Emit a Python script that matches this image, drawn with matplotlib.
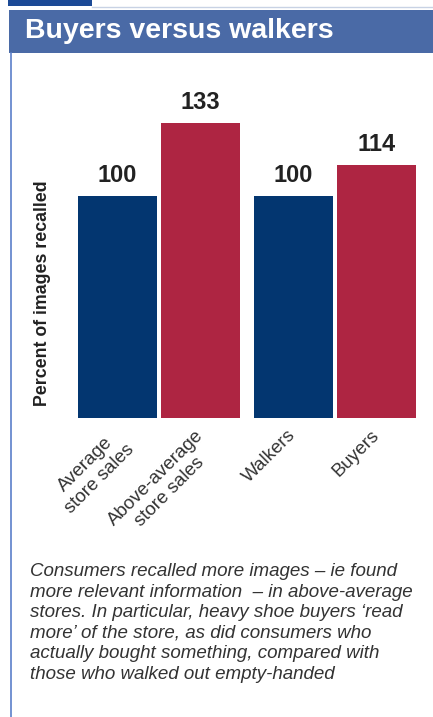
import matplotlib
matplotlib.use("Agg")
import matplotlib.pyplot as plt
from matplotlib.patches import Rectangle
from matplotlib.lines import Line2D

# ---- data ----
categories = ["Average\nstore sales", "Above-average\nstore sales", "Walkers", "Buyers"]
values = [100, 133, 100, 114]
bar_colors = ["#033670", "#ae2542", "#033670", "#ae2542"]
title = "Buyers versus walkers"
ylabel = "Percent of images recalled"
caption = ("Consumers recalled more images \u2013 ie found\n"
           "more relevant information  \u2013 in above-average\n"
           "stores. In particular, heavy shoe buyers \u2018read\n"
           "more\u2019 of the store, as did consumers who\n"
           "actually bought something, compared with\n"
           "those who walked out empty-handed")

W, H = 433, 717
DPI = 100
plt.rcParams['font.family'] = ['Liberation Sans', 'DejaVu Sans']
fig = plt.figure(figsize=(W / DPI, H / DPI), dpi=DPI)
fig.patch.set_facecolor("white")

def fx(px):
    return px / W

def fy(py):
    return 1 - py / H

# decorative header elements
fig.add_artist(Rectangle((fx(8), fy(6)), fx(84), 6 / H, transform=fig.transFigure,
                         facecolor="#1c4a96", edgecolor="none"))
fig.add_artist(Line2D([fx(92), 1], [fy(6.5), fy(6.5)], transform=fig.transFigure,
                      color="#c8d2e4", lw=1))
fig.add_artist(Rectangle((fx(9), fy(53)), 1 - fx(9), 43 / H, transform=fig.transFigure,
                         facecolor="#4a6aa6", edgecolor="none"))
fig.text(fx(25), fy(31), title, color="white", fontsize=20.5, fontweight="bold",
         va="center", ha="left")
fig.add_artist(Line2D([fx(10.5), fx(10.5)], [0, fy(53)], transform=fig.transFigure,
                      color="#5b7fc9", lw=1.2))

# chart axes
ax_left, ax_right, ax_top, ax_bottom = 70, 425, 80, 418
ax = fig.add_axes([fx(ax_left), fy(ax_bottom), (ax_right - ax_left) / W, (ax_bottom - ax_top) / H])
unit = 83.0
positions = [0, 1, 2 + 10 / unit, 3 + 10 / unit]
ax.bar(positions, values, width=79 / unit, color=bar_colors, edgecolor="none")
ax.set_xlim((ax_left - 117.5) / unit, (ax_right - 117.5) / unit)
ax.set_ylim(0, (ax_bottom - ax_top) / 2.22)
for s in ax.spines.values():
    s.set_visible(False)
ax.set_yticks([])
ax.set_xticks(positions)
ax.set_xticklabels([])
ax.tick_params(axis="x", length=0)

for p, lab in zip(positions, categories):
    ax.annotate(lab, (p, 0), xytext=(-6, -9), textcoords="offset pixels",
                rotation=45, ha="right", va="top", rotation_mode="anchor",
                fontsize=13.5, color="#333333", multialignment="center",
                annotation_clip=False)

for p, v in zip(positions, values):
    ax.annotate(f"{v}", (p, v), xytext=(0, 10), textcoords="offset points",
                ha="center", va="baseline", fontsize=17, fontweight="bold", color="#222222")

fig.text(fx(43), fy(293), ylabel, rotation=90, ha="center", va="center",
         fontsize=12.8, fontweight="bold", color="#222222")

fig.text(fx(30), fy(563), caption, ha="left", va="top", fontsize=13.5, style="italic",
         color="#333333", linespacing=1.27)

fig.savefig("out.png", dpi=DPI)
